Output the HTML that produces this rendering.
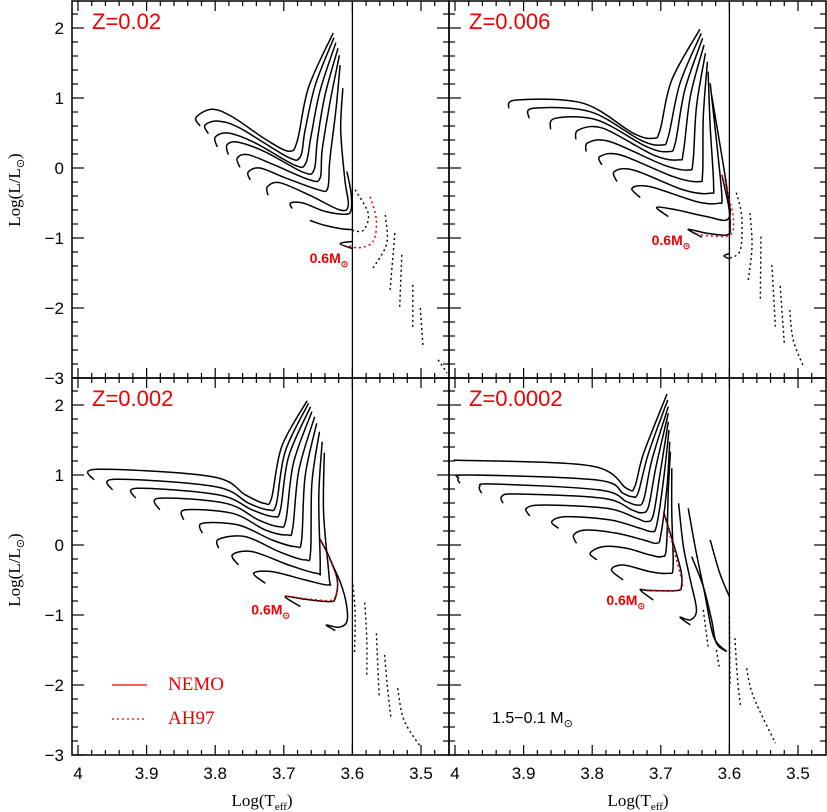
<!DOCTYPE html>
<html><head><meta charset="utf-8">
<style>
html,body{margin:0;padding:0;background:#fff;}
svg{display:block;font-family:"Liberation Sans",sans-serif;}
</style></head>
<body>
<svg id="chart" width="827" height="812" viewBox="0 0 827 812" xmlns="http://www.w3.org/2000/svg">
<text x="262" y="806" font-family="Liberation Serif, serif" font-size="17" text-anchor="middle">Log(T<tspan font-size="11" dy="4">eff</tspan><tspan dy="-4">)</tspan></text>
<text x="638" y="806" font-family="Liberation Serif, serif" font-size="17" text-anchor="middle">Log(T<tspan font-size="11" dy="4">eff</tspan><tspan dy="-4">)</tspan></text>
<text transform="translate(20,190) rotate(-90)" font-family="Liberation Serif, serif" font-size="17" text-anchor="middle">Log(L/L<tspan font-size="11" dy="4">⊙</tspan><tspan dy="-4">)</tspan></text>
<text transform="translate(20,570) rotate(-90)" font-family="Liberation Serif, serif" font-size="17" text-anchor="middle">Log(L/L<tspan font-size="11" dy="4">⊙</tspan><tspan dy="-4">)</tspan></text>
<g>
<line x1="112" y1="685" x2="147" y2="685" stroke="#e00" stroke-width="1.3"/>
<text x="168" y="690" fill="#e00" font-family="Liberation Serif, serif" font-size="19">NEMO</text>
<line x1="112" y1="719" x2="147" y2="719" stroke="#e00" stroke-width="1.3" stroke-dasharray="2 3"/>
<text x="168" y="724" fill="#e00" font-family="Liberation Serif, serif" font-size="19">AH97</text>
</g>
<text x="492" y="723" font-size="16">1.5−0.1 M<tspan font-size="11" dy="4">⊙</tspan></text>
</svg>
<script>
// ---- data: [logTeff, logL] ----
const panelNames = ["Z=0.02","Z=0.006","Z=0.002","Z=0.0002"];
const xTicks = [4,3.9,3.8,3.7,3.6,3.5];
const xTickLabels = ["4","3.9","3.8","3.7","3.6","3.5"];
const yTicks = [2,1,0,-1,-2,-3];
const yTickLabels = ["2","1","0","−1","−2","−3"];
const dividerT = 3.6;

const tlSolid = [
 [[3.822,0.60],[3.828,0.72],[3.805,0.84],[3.775,0.73],[3.725,0.40],[3.692,0.24],[3.680,0.40],[3.664,1.15],[3.628,1.93]],
 [[3.810,0.49],[3.815,0.61],[3.796,0.67],[3.764,0.57],[3.695,0.16],[3.676,0.16],[3.669,0.54],[3.654,1.19],[3.627,1.86]],
 [[3.797,0.30],[3.800,0.44],[3.781,0.50],[3.742,0.36],[3.684,0.04],[3.668,0.07],[3.660,0.47],[3.647,1.11],[3.624,1.79]],
 [[3.781,0.19],[3.783,0.33],[3.767,0.37],[3.727,0.23],[3.672,-0.06],[3.656,-0.03],[3.651,0.40],[3.640,1.04],[3.621,1.71]],
 [[3.764,0.01],[3.768,0.14],[3.752,0.19],[3.713,0.04],[3.662,-0.17],[3.647,-0.14],[3.644,0.26],[3.632,0.97],[3.619,1.61]],
 [[3.749,-0.17],[3.752,-0.06],[3.735,0.0],[3.698,-0.14],[3.650,-0.31],[3.636,-0.29],[3.633,0.11],[3.624,0.83],[3.618,1.47]],
 [[3.723,-0.39],[3.724,-0.27],[3.706,-0.21],[3.662,-0.39],[3.618,-0.60],[3.606,-0.53],[3.611,-0.17],[3.617,0.54],[3.614,1.14]],
 [[3.688,-0.58],[3.690,-0.50],[3.672,-0.50],[3.640,-0.62],[3.610,-0.66],[3.602,-0.60],[3.602,-0.35],[3.608,-0.05]],
 [[3.662,-0.75],[3.640,-0.82],[3.615,-0.87],[3.600,-0.88]],
 [[3.600,-1.05],[3.618,-1.08],[3.600,-1.15]]
];
const tlRed = [[[3.574,-0.41],[3.565,-0.75],[3.570,-1.05],[3.590,-1.14],[3.608,-1.10]]];
const tlDotted = [
 [[3.596,-0.31],[3.577,-0.65],[3.584,-0.89],[3.601,-0.89]],
 [[3.552,-0.67],[3.550,-1.08],[3.570,-1.43]],
 [[3.538,-0.93],[3.545,-1.74]],
 [[3.528,-1.24],[3.531,-1.99]],
 [[3.512,-1.67],[3.512,-2.31]],
 [[3.501,-2.00],[3.497,-2.57]],
 [[3.475,-2.74],[3.462,-2.93]]
];

const trSolid = [
 [[3.922,0.853],[3.910,0.972],[3.813,0.924],[3.740,0.496],[3.711,0.425],[3.701,0.544],[3.684,1.258],[3.643,1.981]],
 [[3.892,0.710],[3.886,0.853],[3.803,0.805],[3.730,0.401],[3.699,0.329],[3.689,0.448],[3.672,1.210],[3.641,1.924]],
 [[3.861,0.553],[3.854,0.710],[3.793,0.686],[3.721,0.306],[3.689,0.234],[3.679,0.353],[3.665,1.115],[3.639,1.853]],
 [[3.824,0.410],[3.820,0.544],[3.784,0.567],[3.711,0.187],[3.674,0.115],[3.667,0.234],[3.657,1.020],[3.637,1.757]],
 [[3.809,0.234],[3.806,0.363],[3.774,0.377],[3.696,0.044],[3.660,-0.028],[3.653,0.091],[3.648,0.877],[3.635,1.638]],
 [[3.786,0.044],[3.789,0.163],[3.759,0.187],[3.682,-0.123],[3.645,-0.194],[3.639,-0.075],[3.638,0.734],[3.632,1.519]],
 [[3.764,-0.194],[3.768,-0.051],[3.740,-0.028],[3.667,-0.313],[3.628,-0.361],[3.623,-0.242],[3.628,0.591],[3.631,1.377]],
 [[3.730,-0.423],[3.742,-0.289],[3.716,-0.266],[3.648,-0.480],[3.616,-0.504],[3.611,-0.408],[3.618,0.306],[3.628,1.210]],
 [[3.689,-0.694],[3.706,-0.561],[3.677,-0.599],[3.633,-0.694],[3.601,-0.718],[3.604,-0.266],[3.626,1.043]],
 [[3.640,-0.989],[3.660,-0.875],[3.633,-0.932],[3.603,-0.956],[3.599,-0.837],[3.601,-0.551],[3.611,-0.099]],
 [[3.599,-1.218],[3.608,-1.256],[3.599,-1.303]]
];
const trRed = [[[3.611,-0.099],[3.601,-0.408],[3.594,-0.742],[3.599,-0.956],[3.628,-0.970],[3.653,-0.932]]];
const trDotted = [
 [[3.590,-0.351],[3.582,-0.694],[3.584,-1.170],[3.599,-1.289]],
 [[3.570,-0.646],[3.567,-1.122],[3.573,-1.636]],
 [[3.554,-0.980],[3.555,-1.884]],
 [[3.538,-1.384],[3.533,-2.265]],
 [[3.526,-1.684],[3.520,-2.503]],
 [[3.512,-2.027],[3.507,-2.455],[3.492,-2.836]]
];

const blSolid = [
 [[3.977,0.929],[3.972,1.081],[3.805,0.977],[3.756,0.715],[3.729,0.596],[3.718,0.667],[3.703,1.405],[3.666,2.062]],
 [[3.950,0.786],[3.946,0.939],[3.800,0.834],[3.751,0.596],[3.722,0.501],[3.711,0.586],[3.698,1.334],[3.664,2.024]],
 [[3.916,0.667],[3.914,0.810],[3.795,0.715],[3.746,0.501],[3.715,0.405],[3.705,0.501],[3.693,1.262],[3.661,1.976]],
 [[3.881,0.501],[3.882,0.667],[3.785,0.596],[3.737,0.358],[3.707,0.263],[3.697,0.358],[3.686,1.167],[3.659,1.905]],
 [[3.846,0.358],[3.844,0.501],[3.775,0.453],[3.727,0.215],[3.695,0.144],[3.687,0.239],[3.678,1.072],[3.655,1.833]],
 [[3.819,0.167],[3.819,0.310],[3.766,0.286],[3.717,0.072],[3.683,-0.023],[3.674,0.072],[3.669,0.977],[3.652,1.738]],
 [[3.795,-0.047],[3.795,0.082],[3.756,0.120],[3.707,-0.094],[3.669,-0.213],[3.661,-0.094],[3.659,0.881],[3.648,1.619]],
 [[3.766,-0.285],[3.775,-0.142],[3.746,-0.094],[3.693,-0.285],[3.652,-0.404],[3.647,-0.309],[3.649,0.691],[3.644,1.476]],
 [[3.727,-0.547],[3.744,-0.404],[3.717,-0.380],[3.669,-0.499],[3.635,-0.570],[3.634,-0.451],[3.642,0.453],[3.641,1.319]],
 [[3.676,-0.880],[3.698,-0.737],[3.669,-0.775],[3.634,-0.808],[3.625,-0.761],[3.622,-0.499],[3.634,-0.166],[3.648,0.096]],
 [[3.625,-1.223],[3.638,-1.142],[3.620,-1.175],[3.608,-1.094],[3.609,-0.832],[3.617,-0.547],[3.630,-0.261]]
];
const blRed = [[[3.698,-0.727],[3.669,-0.766],[3.634,-0.794],[3.625,-0.737],[3.622,-0.499],[3.637,-0.118],[3.649,0.096]]];
const blDotted = [
 [[3.600,-0.499],[3.596,-0.975],[3.597,-1.546]],
 [[3.582,-0.823],[3.579,-1.356],[3.579,-1.856]],
 [[3.565,-1.261],[3.563,-1.737],[3.561,-2.165]],
 [[3.553,-1.570],[3.549,-2.022],[3.544,-2.451]],
 [[3.534,-2.046],[3.525,-2.498],[3.501,-2.879]]
];

const brSolid = [
 [[4.002,1.213],[3.803,1.132],[3.750,0.810],[3.738,0.834],[3.725,1.310],[3.691,2.157]],
 [[3.993,0.881],[3.995,0.953],[3.978,1.000],[3.793,0.929],[3.755,0.739],[3.742,0.691],[3.733,0.748],[3.718,1.310],[3.690,2.071]],
 [[3.961,0.739],[3.964,0.834],[3.944,0.872],[3.789,0.786],[3.750,0.620],[3.735,0.572],[3.725,0.643],[3.713,1.215],[3.689,1.976]],
 [[3.930,0.596],[3.932,0.691],[3.910,0.729],[3.784,0.667],[3.742,0.501],[3.728,0.462],[3.718,0.548],[3.707,1.119],[3.689,1.881]],
 [[3.891,0.415],[3.896,0.524],[3.871,0.572],[3.779,0.524],[3.735,0.382],[3.721,0.334],[3.711,0.429],[3.701,1.024],[3.689,1.762]],
 [[3.849,0.239],[3.859,0.334],[3.837,0.405],[3.774,0.358],[3.730,0.239],[3.713,0.191],[3.706,0.286],[3.696,0.929],[3.688,1.643]],
 [[3.823,0.025],[3.827,0.144],[3.808,0.215],[3.764,0.167],[3.725,0.072],[3.706,0.025],[3.700,0.144],[3.691,0.834],[3.687,1.476]],
 [[3.793,-0.213],[3.803,-0.118],[3.784,-0.023],[3.750,-0.047],[3.716,-0.142],[3.699,-0.166],[3.692,-0.047],[3.689,0.786],[3.686,1.334]],
 [[3.755,-0.499],[3.772,-0.356],[3.755,-0.285],[3.716,-0.380],[3.689,-0.404],[3.682,-0.309],[3.684,0.453],[3.684,1.096]],
 [[3.711,-0.785],[3.730,-0.642],[3.716,-0.651],[3.677,-0.651],[3.670,-0.594],[3.672,-0.309],[3.696,0.477]],
 [[3.657,-1.142],[3.672,-1.032],[3.657,-1.070],[3.648,-0.927],[3.657,-0.499],[3.667,-0.023],[3.674,0.596]],
 [[3.660,0.524],[3.650,-0.023],[3.636,-0.690],[3.623,-1.308],[3.604,-1.522]],
 [[3.628,0.072],[3.614,-0.404],[3.600,-0.737]],
 [[3.655,-0.166],[3.638,-0.594],[3.626,-1.070],[3.619,-1.403],[3.604,-1.522]]
];
const brRed = [[[3.696,0.477],[3.672,-0.404],[3.670,-0.618],[3.687,-0.651],[3.721,-0.642]]];
const brDotted = [
 [[3.638,-0.927],[3.631,-1.451]],
 [[3.619,-1.499],[3.615,-1.737]],
 [[3.600,-1.023],[3.599,-2.022]],
 [[3.592,-1.332],[3.588,-1.927],[3.584,-2.284]],
 [[3.575,-1.761],[3.565,-2.165],[3.533,-2.831]]
];

const massLabelT = [3.606,3.657,3.691,3.723];
const massLabelL = [-1.36,-1.10,-0.99,-0.86];

// ---- layout ----
const NS="http://www.w3.org/2000/svg";
const svg=document.getElementById('chart');
const panels=[
 {x0:72,x1:449,y0:1,y1:378,tx:78,ly:168,solid:tlSolid,red:tlRed,dot:tlDotted,showX:false,showY:true},
 {x0:449,x1:826,y0:1,y1:378,tx:455,ly:168,solid:trSolid,red:trRed,dot:trDotted,showX:false,showY:false},
 {x0:72,x1:449,y0:378,y1:755,tx:78,ly:545,solid:blSolid,red:blRed,dot:blDotted,showX:true,showY:true},
 {x0:449,x1:826,y0:378,y1:755,tx:455,ly:545,solid:brSolid,red:brRed,dot:brDotted,showX:true,showY:false}
];
const SX=686, SY=70;
function mk(tag,attrs,parent){const e=document.createElementNS(NS,tag);for(const k in attrs)e.setAttribute(k,attrs[k]);(parent||svg).appendChild(e);return e;}
function smoothPath(pts){
 if(pts.length<3){return 'M'+pts.map(p=>p[0].toFixed(1)+','+p[1].toFixed(1)).join('L');}
 let d='M'+pts[0][0].toFixed(1)+','+pts[0][1].toFixed(1);
 for(let i=0;i<pts.length-1;i++){
  const p0=pts[i-1]||pts[i],p1=pts[i],p2=pts[i+1],p3=pts[i+2]||pts[i+1];
  const c1=[p1[0]+(p2[0]-p0[0])/6,p1[1]+(p2[1]-p0[1])/6];
  const c2=[p2[0]-(p3[0]-p1[0])/6,p2[1]-(p3[1]-p1[1])/6];
  d+='C'+c1[0].toFixed(1)+','+c1[1].toFixed(1)+' '+c2[0].toFixed(1)+','+c2[1].toFixed(1)+' '+p2[0].toFixed(1)+','+p2[1].toFixed(1);
 }
 return d;
}
panels.forEach((P,pi)=>{
 const xs=t=>P.tx+(4-t)*SX, ys=l=>P.ly-l*SY;
 const g=mk('g',{});
 
 
 const cp='clip'+pi;
 const cpe=mk('clipPath',{id:cp},g);mk('rect',{x:P.x0,y:P.y0,width:P.x1-P.x0,height:P.y1-P.y0},cpe);
 for(let k=0;k<=30;k++){
  const t=4.04-k*0.02; const x=xs(t); if(x<P.x0+1||x>P.x1-1)continue;
  const major=Math.abs(Math.round(t*10)-t*10)<1e-6; const len=major?10:5;
  const a=mk('line',{x1:x,y1:P.y0,x2:x,y2:P.y0+len,stroke:'#000','stroke-width':1.2},g);
  
  const b=mk('line',{x1:x,y1:P.y1,x2:x,y2:P.y1-len,stroke:'#000','stroke-width':1.2},g);
  
 }
 for(let k=0;k<=30;k++){
  const l=-3.2+k*0.2; const y=ys(l); if(y<P.y0+1||y>P.y1+1)continue;
  const major=Math.abs(Math.round(l)-l)<1e-6; const len=major?12:6;
  const a=mk('line',{x1:P.x0,y1:y,x2:P.x0+len,y2:y,stroke:'#000','stroke-width':1.2},g);
  
  const b=mk('line',{x1:P.x1,y1:y,x2:P.x1-len,y2:y,stroke:'#000','stroke-width':1.2},g);
  
 }
 const fr=mk('rect',{x:P.x0,y:P.y0,width:P.x1-P.x0,height:P.y1-P.y0,fill:'none',stroke:'#000','stroke-width':1.5},g);
 
 const dv=mk('line',{x1:xs(dividerT),y1:P.y0,x2:xs(dividerT),y2:P.y1,stroke:'#000','stroke-width':1.3},g);
 
 if(P.showY){
  yTicks.forEach((v,i)=>{const tx=mk('text',{x:64,y:ys(v)+6,'text-anchor':'end','font-size':17},g);tx.textContent=yTickLabels[i];
   });
 }
 if(P.showX){
  xTicks.forEach((v,i)=>{const tx=mk('text',{x:xs(v),y:779,'text-anchor':'middle','font-size':17},g);tx.textContent=xTickLabels[i];
   });
 }
 const lbl=mk('text',{x:P.x0+20,y:P.y0+28,fill:'#e00','font-size':22},g);lbl.textContent=panelNames[pi];
 
 const cg=mk('g',{'clip-path':'url(#'+cp+')'},g);
 P.solid.forEach(tr=>{const p=mk('path',{d:smoothPath(tr.map(q=>[xs(q[0]),ys(q[1])])),fill:'none',stroke:'#000','stroke-width':1.5},cg);
  });
 P.dot.forEach(tr=>{const p=mk('path',{d:smoothPath(tr.map(q=>[xs(q[0]),ys(q[1])])),fill:'none',stroke:'#000','stroke-width':1.4,'stroke-dasharray':'2 3'},cg);
  });
 P.red.forEach(tr=>{const p=mk('path',{d:smoothPath(tr.map(q=>[xs(q[0]),ys(q[1])])),fill:'none',stroke:'#e00','stroke-width':1.5,'stroke-dasharray':'2 3'},cg);
  });
 const ml=mk('text',{x:xs(massLabelT[pi]),y:ys(massLabelL[pi]),'text-anchor':'end',fill:'#e00','font-size':14,'font-weight':'bold'},g);
 ml.innerHTML='0.6M<tspan font-size="9" dy="4">⊙</tspan>';
 
});
</script>
</body></html>
